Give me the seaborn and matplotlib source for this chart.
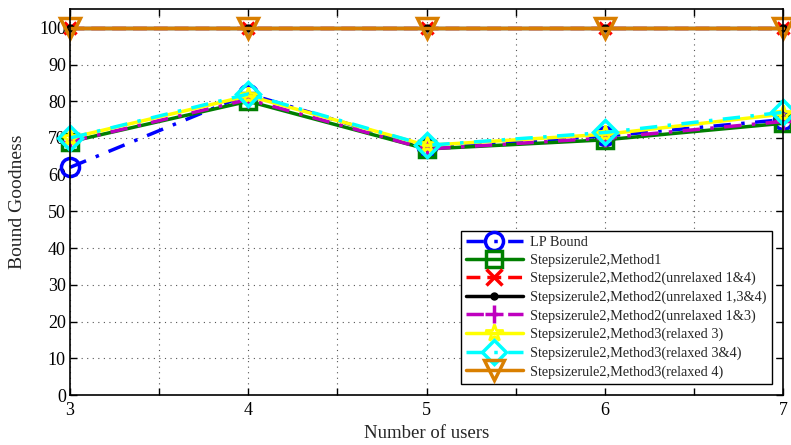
import matplotlib
matplotlib.use("Agg")
import matplotlib.pyplot as plt
import seaborn as sns
import pandas as pd
import numpy as np

users = [3, 4, 5, 6, 7]
lp_bound = [62, 82, 67.5, 70.5, 75]
method1 = [69, 80, 67, 69.5, 74]
m2_unrelaxed_14 = [100, 100, 100, 100, 100]
m2_unrelaxed_134 = [100, 100, 100, 100, 100]
m2_unrelaxed_13 = [69, 80.5, 67, 70, 74.5]
m3_relaxed_3 = [70, 81.5, 68, 71, 76.5]
m3_relaxed_34 = [70, 82, 68, 71.5, 77]
m3_relaxed_4 = [100, 100, 100, 100, 100]

names = ["LP Bound", "Stepsizerule2,Method1", "Stepsizerule2,Method2(unrelaxed 1&4)",
         "Stepsizerule2,Method2(unrelaxed 1,3&4)", "Stepsizerule2,Method2(unrelaxed 1&3)",
         "Stepsizerule2,Method3(relaxed 3)", "Stepsizerule2,Method3(relaxed 3&4)",
         "Stepsizerule2,Method3(relaxed 4)"]
series = [lp_bound, method1, m2_unrelaxed_14, m2_unrelaxed_134, m2_unrelaxed_13,
          m3_relaxed_3, m3_relaxed_34, m3_relaxed_4]

sns.set_theme(style="ticks")
plt.rcParams['font.family'] = ['Liberation Serif', 'DejaVu Serif']

styles = [
    dict(color="#0000ff", ls=(0, (5, 3, 1, 3)), marker="o", ms=13, mew=2.5, mfc="none"),
    dict(color="#007f00", ls="-", marker="s", ms=11, mew=2.5, mfc="none"),
    dict(color="#ff0000", ls=(0, (4, 2)), marker="x", ms=9, mew=2.5, mfc="none"),
    dict(color="#000000", ls="-", marker="o", ms=5, mew=1, mfc="#000000"),
    dict(color="#bf00bf", ls=(0, (5, 3, 1, 3)), marker="+", ms=13, mew=2.5, mfc="none"),
    dict(color="#ffff00", ls="-", marker="*", ms=13, mew=2, mfc="none"),
    dict(color="#00ffff", ls=(0, (5, 3, 1, 3)), marker="D", ms=12, mew=2.5, mfc="none"),
    dict(color="#d97f00", ls="-", marker="v", ms=14, mew=2.5, mfc="none"),
]

fig = plt.figure(figsize=(7.91, 4.45), dpi=100)
ax = fig.add_axes([70/791, 1-395/445, (783-70)/791, (395-9.5)/445])

for name, vals, st in zip(names, series, styles):
    df = pd.DataFrame({"users": users, "value": vals})
    sns.lineplot(data=df, x="users", y="value", ax=ax, label=name,
                 color=st["color"], linestyle=st["ls"], linewidth=2.5,
                 marker=st["marker"], markersize=st["ms"], markeredgewidth=st["mew"],
                 markerfacecolor=st["mfc"], markeredgecolor=st["color"], clip_on=False)

ax.set_xlim(3, 7)
ax.set_ylim(0, 105)
ax.set_xticks(np.arange(3, 7.01, 0.5))
ax.set_xticklabels([str(int(t)) if t == int(t) else "" for t in np.arange(3, 7.01, 0.5)])
ax.set_yticks(np.arange(0, 101, 10))
ax.tick_params(axis="both", direction="in", labelsize=13, length=5, width=1,
               top=True, right=True, colors="black", pad=3)
ax.tick_params(axis="x", pad=5)
ax.grid(True, linestyle=(0, (1, 4)), color="#555555", linewidth=0.8)
for s in ax.spines.values():
    s.set_linewidth(1.2)
    s.set_color("black")
ax.set_xlabel("Number of users", fontsize=13.5, labelpad=4)
ax.set_ylabel("Bound Goodness", fontsize=14, labelpad=9)

leg = ax.legend(loc="lower right", fontsize=10.3, frameon=True, fancybox=False,
                edgecolor="black", framealpha=1, borderaxespad=0.8,
                handlelength=4.0, handletextpad=0.5, labelspacing=0.36, borderpad=0.35)
leg.get_frame().set_linewidth(1.0)
for h in leg.legend_handles:
    if h.get_marker() == "x":
        h.set_markersize(11)

fig.savefig("out.png", dpi=100)
